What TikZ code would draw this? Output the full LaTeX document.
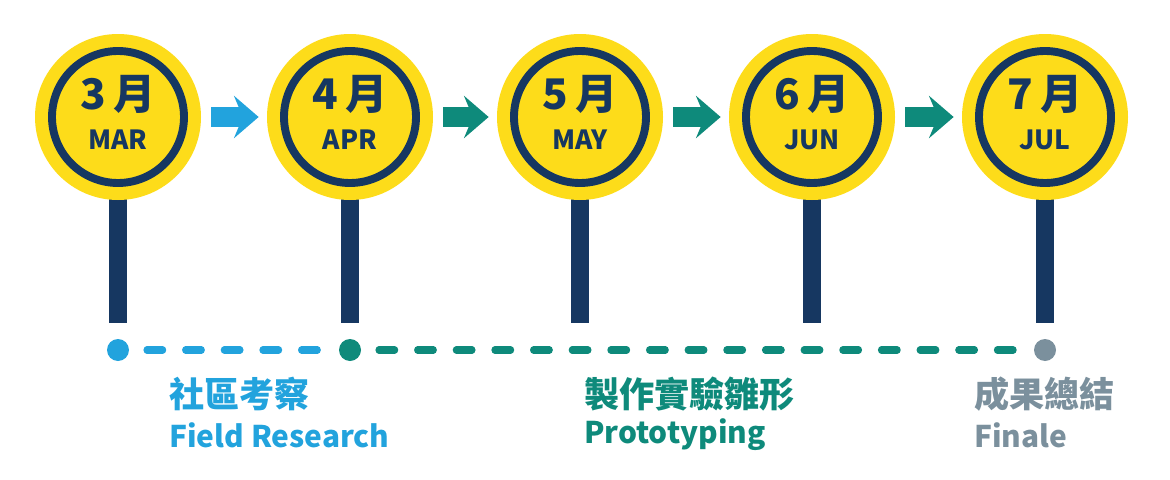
\documentclass[tikz,border=0pt]{standalone}
\usepackage{fontspec}
\setmainfont{Noto Sans CJK TC}[BoldFont={* Black}]
\usetikzlibrary{arrows.meta}
\definecolor{sun}{HTML}{FDDC1A}
\definecolor{navy}{HTML}{163761}
\definecolor{sky}{HTML}{22A3DD}
\definecolor{teal}{HTML}{0E8A7B}
\definecolor{slate}{HTML}{7B909D}
\tikzset{
  month/.style={circle, fill=sun, minimum size=166\unitpx, inner sep=0pt,
    path picture={\draw[navy, line width=4.5pt] (path picture bounding box.center) circle (66\unitpx);}},
  stem/.style={fill=navy},
  dot/.style={circle, minimum size=22\unitpx, inner sep=0pt},
  hop/.style={line width=11pt, -{Stealth[length=14pt, width=24pt, inset=5pt]}},
  dashline/.style={line width=4pt, line cap=round, dash pattern=on 9pt off 13pt},
  phase/.style={anchor=west, font=\bfseries\fontsize{20}{22}\selectfont},
  phaseen/.style={anchor=west, font=\bfseries\fontsize{17}{19}\selectfont}
}
\newcommand{\unitpx}{*0.02cm}
\begin{document}
\begin{tikzpicture}[x=0.02cm, y=-0.02cm]
  \useasboundingbox (0,0) rectangle (1170,480);
  % stems
  \foreach \cx in {118,350,580,812,1045}
    \fill[stem] (\cx-9,190) rectangle (\cx+9,323);
  % month discs
  \foreach \cx/\n in {118/1,350/2,580/3,812/4,1045/5}
    \node[month] (m\n) at (\cx,117) {};
  \foreach \n/\d/\mo in {1/3/MAR,2/4/APR,3/5/MAY,4/6/JUN,5/7/JUL}{
    \node[navy, font=\bfseries\fontsize{24}{24}\selectfont] at ([yshift=13pt]m\n.center) {\d\,月};
    \node[navy, font=\bfseries\fontsize{15}{15}\selectfont] at ([yshift=-13pt]m\n.center) {\mo};
  }
  % arrows between months
  \draw[hop, sky] ([xshift=10\unitpx]m1.east) -- ([xshift=-8\unitpx]m2.west);
  \draw[hop, teal] ([xshift=10\unitpx]m2.east) -- ([xshift=-8\unitpx]m3.west);
  \draw[hop, teal] ([xshift=10\unitpx]m3.east) -- ([xshift=-8\unitpx]m4.west);
  \draw[hop, teal] ([xshift=10\unitpx]m4.east) -- ([xshift=-8\unitpx]m5.west);
  % timeline
  \node[dot, fill=sky] (d1) at (118,350) {};
  \node[dot, fill=teal] (d2) at (350,350) {};
  \node[dot, fill=slate] (d3) at (1045,350) {};
  \draw[dashline, sky, shorten <=10pt, shorten >=9pt] (d1) -- (d2);
  \draw[dashline, teal, shorten <=10pt, shorten >=9pt] (d2) -- (d3);
  % phases
  \node[phase, sky] (p1) at (163,394) {社區考察};
  \node[phaseen, sky] (e1) at (163,435) {Field Research};
  \node[phase, teal] (p2) at (578,394) {製作實驗雛形};
  \node[phaseen, teal] (e2) at (578,435) {Prototyping};
  \node[phase, slate] (p3) at (968,394) {成果總結};
  \node[phaseen, slate] (e3) at (968,435) {Finale};
\end{tikzpicture}
\end{document}
